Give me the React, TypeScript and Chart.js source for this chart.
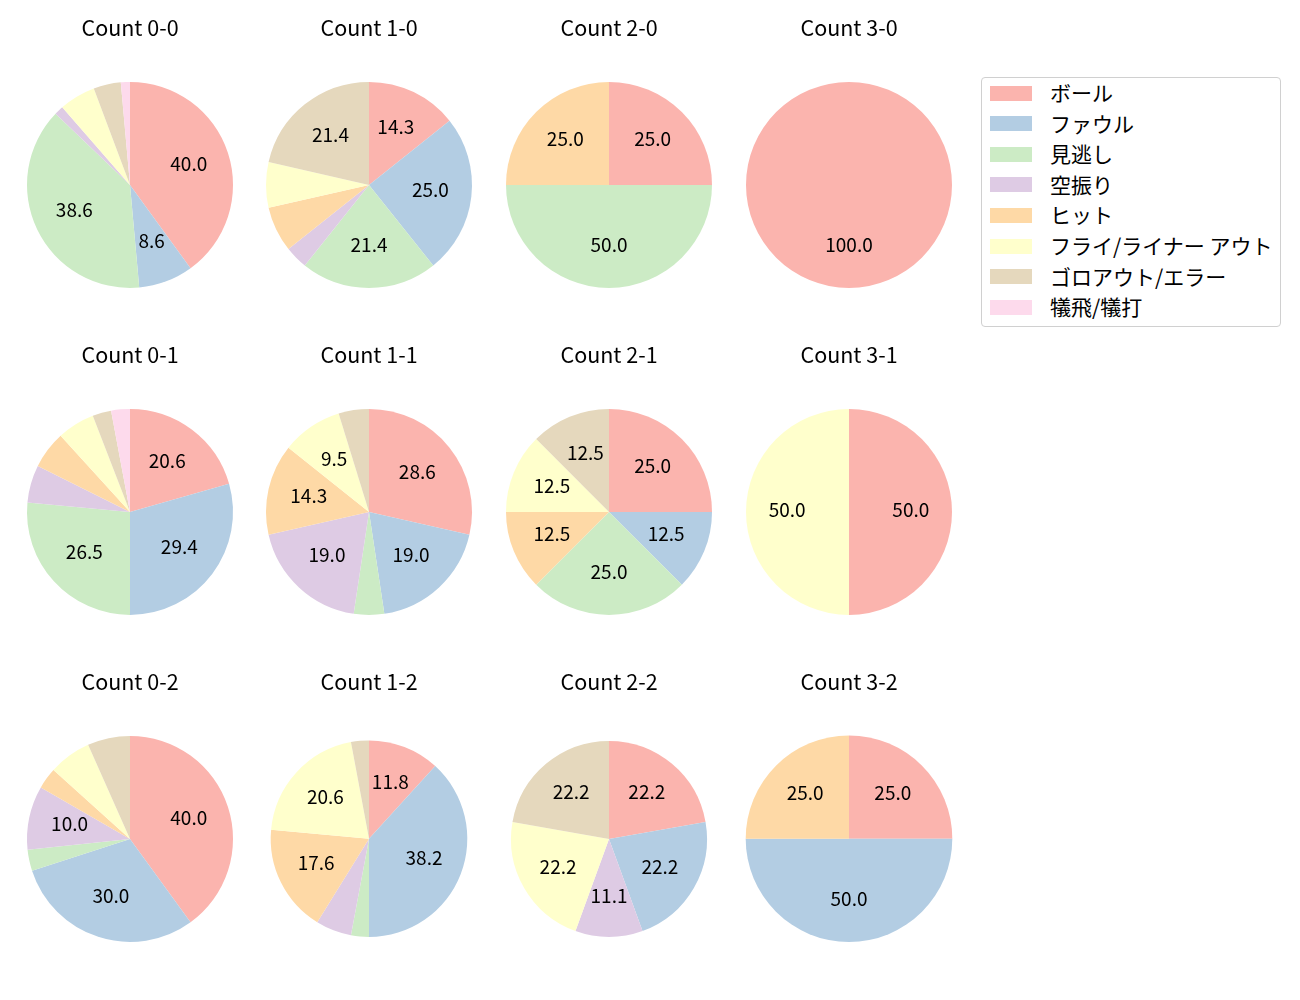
import React, { useEffect, useRef } from 'react';
import { Chart, registerables } from 'chart.js';

Chart.register(...registerables);

const FONT = "'Noto Sans CJK JP', 'Noto Sans', sans-serif";

const CATEGORIES = ['ボール', 'ファウル', '見逃し', '空振り', 'ヒット', 'フライ/ライナー アウト', 'ゴロアウト/エラー', '犠飛/犠打'];
const COLORS = ['#fbb4ae', '#b3cde3', '#ccebc5', '#decbe4', '#fed9a6', '#ffffcc', '#e5d8bd', '#fddaec'];

const TITLES = [
  'Count 0-0', 'Count 1-0', 'Count 2-0', 'Count 3-0',
  'Count 0-1', 'Count 1-1', 'Count 2-1', 'Count 3-1',
  'Count 0-2', 'Count 1-2', 'Count 2-2', 'Count 3-2',
];

// counts per category (ボール, ファウル, 見逃し, 空振り, ヒット, フライ, ゴロ, 犠飛)
const count00 = [28, 6, 27, 1, 0, 4, 3, 1];
const count10 = [4, 7, 6, 1, 2, 2, 6, 0];
const count20 = [1, 0, 2, 0, 1, 0, 0, 0];
const count30 = [1, 0, 0, 0, 0, 0, 0, 0];
const count01 = [7, 10, 9, 2, 2, 2, 1, 1];
const count11 = [6, 4, 1, 4, 3, 2, 1, 0];
const count21 = [2, 1, 2, 0, 1, 1, 1, 0];
const count31 = [1, 0, 0, 0, 0, 1, 0, 0];
const count02 = [12, 9, 1, 3, 1, 2, 2, 0];
const count12 = [4, 13, 1, 2, 6, 7, 1, 0];
const count22 = [2, 2, 0, 1, 0, 2, 2, 0];
const count32 = [1, 2, 0, 0, 1, 0, 0, 0];

const SERIES = [
  count00, count10, count20, count30,
  count01, count11, count21, count31,
  count02, count12, count22, count32,
];

const LABEL_MIN_PCT = 8;

// layout (positions only)
const COL_X = [129.5, 369, 609, 848.5];
const ROW_Y = [185, 512, 839];
const RADII = [103, 103, 103, 103, 103, 103, 103, 103, 103, 98.5, 98, 103.5];
const TITLE_OFFSET = 157;
const TITLE_SIZE = 21.5;
const CANVAS_W = 240;

const pctPlugin = {
  id: 'pctLabels',
  afterDatasetsDraw(chart: any) {
    const ctx = chart.ctx;
    const meta = chart.getDatasetMeta(0);
    const values: number[] = chart.data.datasets[0].data as number[];
    const total = values.reduce((a, b) => a + b, 0);
    ctx.save();
    ctx.fillStyle = '#000';
    ctx.font = `19px ${FONT}`;
    ctx.textAlign = 'center';
    ctx.textBaseline = 'middle';
    meta.data.forEach((arc: any, i: number) => {
      const pct = (values[i] / total) * 100;
      if (pct < LABEL_MIN_PCT) return;
      const { x, y, startAngle, endAngle, outerRadius } = arc.getProps(['x', 'y', 'startAngle', 'endAngle', 'outerRadius'], true);
      const mid = (startAngle + endAngle) / 2;
      const px = x + Math.cos(mid) * outerRadius * 0.6;
      const py = y + Math.sin(mid) * outerRadius * 0.6;
      ctx.fillText(pct.toFixed(1), px, py - 2);
    });
    ctx.restore();
  },
};

function PieChart({ idx }: { idx: number }) {
  const ref = useRef<HTMLCanvasElement>(null);
  const r = RADII[idx];
  const cx = COL_X[idx % 4];
  const cy = ROW_Y[Math.floor(idx / 4)];
  const lineH = TITLE_SIZE * 1.2;
  const T = TITLE_OFFSET + lineH / 2 - r;
  const H = Math.round(T + 2 * r);
  useEffect(() => {
    const chart = new Chart(ref.current!, {
      type: 'pie',
      data: {
        labels: CATEGORIES,
        datasets: [{ data: SERIES[idx], backgroundColor: COLORS, borderWidth: 0, hoverOffset: 0 }],
      },
      options: {
        responsive: false,
        animation: false,
        devicePixelRatio: 1,
        layout: { padding: { left: CANVAS_W / 2 - r, right: CANVAS_W / 2 - r, top: 0, bottom: H - T - 2 * r } },
        plugins: {
          legend: { display: false },
          tooltip: { enabled: false },
          title: {
            display: true,
            text: TITLES[idx],
            color: '#000',
            font: { family: FONT, size: TITLE_SIZE, weight: 'normal', lineHeight: 1.2 },
            padding: { top: 0, bottom: T - lineH },
          },
        },
      } as any,
      plugins: [pctPlugin],
    });
    return () => chart.destroy();
  }, []);
  return (
    <canvas
      ref={ref}
      width={CANVAS_W}
      height={H}
      style={{ position: 'absolute', left: cx - CANVAS_W / 2, top: cy - r - T, width: CANVAS_W, height: H }}
    />
  );
}

function Legend() {
  return (
    <div
      style={{
        position: 'absolute',
        left: 981,
        top: 77,
        width: 298,
        height: 248,
        border: '1px solid #d0d0d0',
        borderRadius: 4,
        background: '#fff',
        fontFamily: FONT,
        fontSize: 21,
        color: '#000',
      }}
    >
      {CATEGORIES.map((c, i) => (
        <div
          key={c}
          style={{ position: 'absolute', left: 0, top: -1 + i * 30.6, height: 30, display: 'flex', alignItems: 'center' }}
        >
          <div style={{ marginLeft: 8, width: 42, height: 15, background: COLORS[i], marginTop: 2 }} />
          <span style={{ marginLeft: 18, whiteSpace: 'nowrap', lineHeight: '30px' }}>{c}</span>
        </div>
      ))}
    </div>
  );
}

export default function App() {
  return (
    <div style={{ position: 'absolute', left: 0, top: 0, width: 1300, height: 1000, background: '#fff', overflow: 'hidden' }}>
      {TITLES.map((_, i) => (
        <PieChart key={i} idx={i} />
      ))}
      <Legend />
    </div>
  );
}
